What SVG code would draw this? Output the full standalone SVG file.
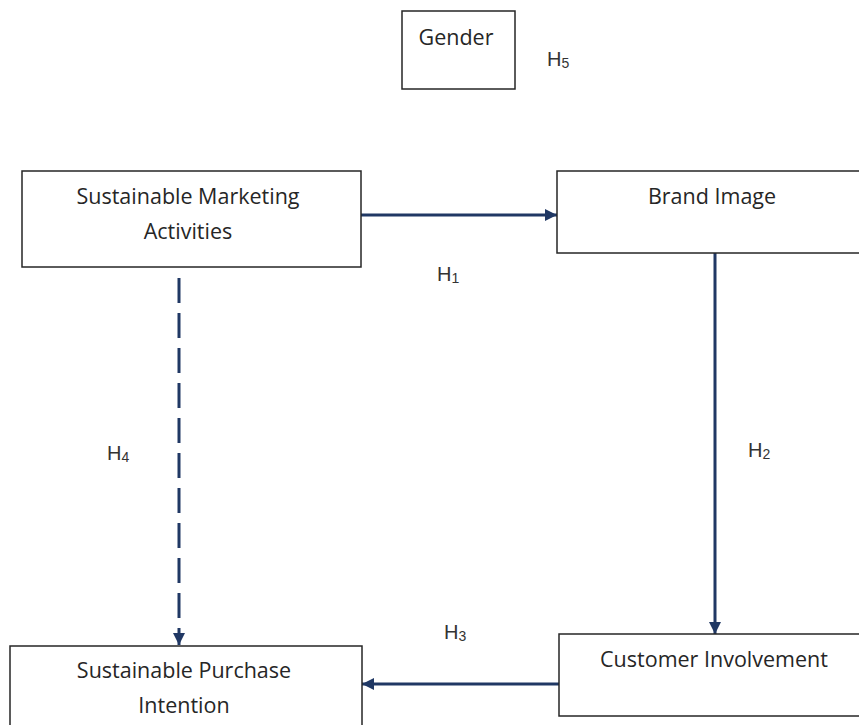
<svg xmlns="http://www.w3.org/2000/svg" width="859" height="725" viewBox="0 0 859 725">
  <style>
    .box { fill: #ffffff; stroke: #262626; stroke-width: 1.5; }
    .lbl { font-family: "Open Sans", "Noto Sans", "Liberation Sans", sans-serif; font-size: 21.5px; fill: #262626; text-anchor: middle; }
    .hyp { font-family: "Liberation Sans", Arial, sans-serif; font-size: 20px; fill: #333333; }
    .sub { font-size: 14px; }
    .link { fill: none; stroke: #203864; stroke-width: 3; }
    .dash { stroke-dasharray: 25 10; }
  </style>
  <defs>
    <marker id="arrow" viewBox="0 0 10 10" refX="10" refY="5" markerWidth="4" markerHeight="4" markerUnits="strokeWidth" orient="auto">
      <path d="M0,0 L10,5 L0,10 Z" fill="#203864"/>
    </marker>
  </defs>
  <rect width="859" height="725" fill="#ffffff"/>

  <!-- connectors -->
  <g id="connectors">
    <line class="link" x1="361" y1="215" x2="557" y2="215" marker-end="url(#arrow)"/>
    <line class="link" x1="715" y1="253" x2="715" y2="634" marker-end="url(#arrow)"/>
    <line class="link" x1="559" y1="684" x2="362" y2="684" marker-end="url(#arrow)"/>
    <line class="link dash" x1="179" y1="278" x2="179" y2="645" marker-end="url(#arrow)"/>
  </g>

  <!-- nodes -->
  <g id="gender">
    <rect class="box" x="402" y="11" width="113" height="78"/>
    <text class="lbl" x="456" y="45">Gender</text>
  </g>
  <g id="sustainable-marketing-activities">
    <rect class="box" x="22" y="171" width="339" height="96"/>
    <text class="lbl" x="188" y="204">Sustainable Marketing</text>
    <text class="lbl" x="188" y="239">Activities</text>
  </g>
  <g id="brand-image">
    <rect class="box" x="557" y="171" width="310" height="82"/>
    <text class="lbl" x="712" y="204">Brand Image</text>
  </g>
  <g id="customer-involvement">
    <rect class="box" x="559" y="634" width="310" height="82"/>
    <text class="lbl" x="714" y="667">Customer Involvement</text>
  </g>
  <g id="sustainable-purchase-intention">
    <rect class="box" x="10" y="646" width="352" height="90"/>
    <text class="lbl" x="184" y="678">Sustainable Purchase</text>
    <text class="lbl" x="184" y="713">Intention</text>
  </g>

  <!-- hypothesis labels -->
  <g id="hypotheses">
    <text class="hyp" x="547" y="66">H<tspan class="sub" dy="2">5</tspan></text>
    <text class="hyp" x="437" y="281">H<tspan class="sub" dy="2">1</tspan></text>
    <text class="hyp" x="748" y="457">H<tspan class="sub" dy="2">2</tspan></text>
    <text class="hyp" x="444" y="639">H<tspan class="sub" dy="2">3</tspan></text>
    <text class="hyp" x="107" y="460">H<tspan class="sub" dy="2">4</tspan></text>
  </g>
</svg>
